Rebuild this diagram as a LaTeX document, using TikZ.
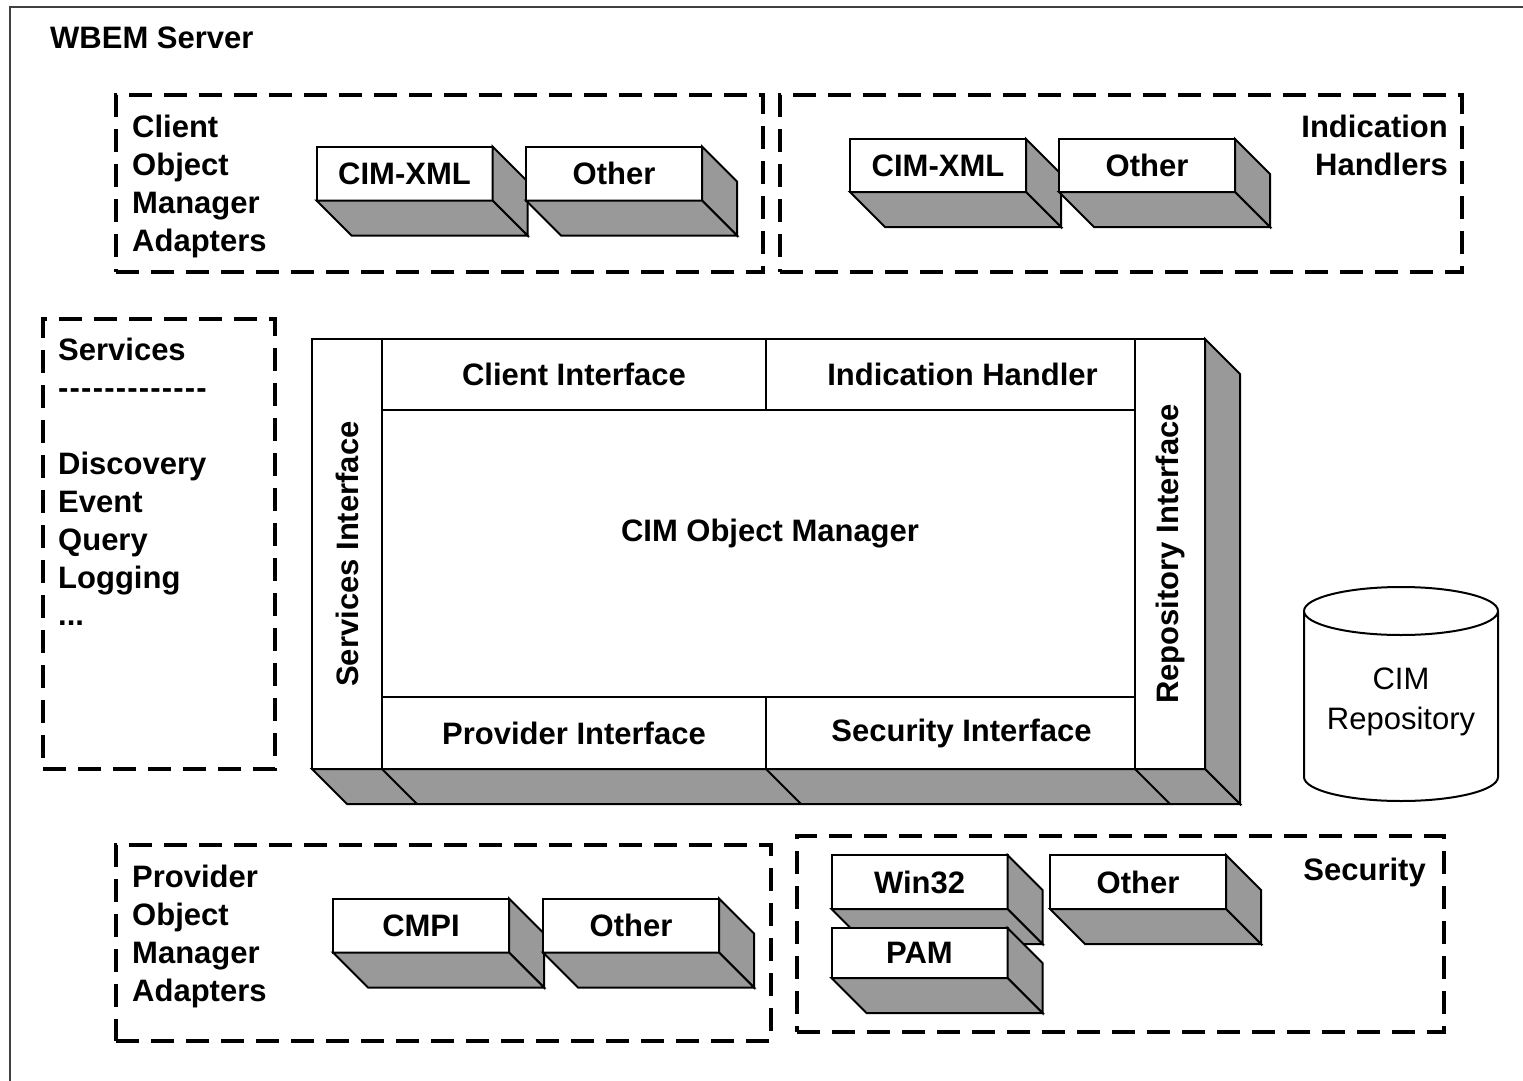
\documentclass[tikz,border=0pt]{standalone}
\usepackage{fontspec}
\setmainfont{Liberation Sans}
\usepackage{tikz}
\usetikzlibrary{positioning}

\definecolor{facegray}{RGB}{153,153,153}
\definecolor{framegray}{RGB}{64,64,64}

\begin{document}
\begin{tikzpicture}[x=1pt,y=-1pt,
        font=\fontsize{31}{38.5}\selectfont\bfseries,
        group/.style={draw, line width=4pt, dash pattern=on 23pt off 12pt, minimum height=177pt, outer sep=0pt},
        slab/.style={draw, line width=2pt, fill=white, minimum width=176pt, minimum height=54pt, inner sep=0pt, outer sep=0pt},
        panel/.style={draw, line width=2pt, fill=white, inner sep=0pt, outer sep=0pt},
        face/.style={draw, line width=2pt, fill=facegray},
        caption/.style={inner sep=0pt, align=left, font=\fontsize{31}{37.9}\selectfont\bfseries}]
        \def\slabdepth{35}
        \def\hy{-\kern1.2pt}
        \def\slabsides#1{%
            \path[face] (#1.north east) -- ++(\slabdepth,\slabdepth)
                -- ([shift={(\slabdepth,\slabdepth)}]#1.south east) -- (#1.south east) -- cycle;
            \path[face] (#1.south west) -- (#1.south east)
                -- ([shift={(\slabdepth,\slabdepth)}]#1.south east)
                -- ([shift={(\slabdepth,\slabdepth)}]#1.south west) -- cycle;}

        \useasboundingbox (0,0) rectangle (1523,1081);
        \clip (0,0) rectangle (1523,1081);
        \draw[line width=2pt, framegray] (10,7) rectangle (1560,1120);
        \node[anchor=west, inner sep=0pt] (wbem) at (50,38) {WBEM Server};

        % client adapters
        \node[group, minimum width=647pt] (coma) at (439.5,183.5) {};
        \node[caption, anchor=north west] (comalabel) at (132,115) {Client\\Object\\Manager\\Adapters};
        \node[slab] (cxml) at (404.5,173.5) {CIM-XML};
        \slabsides{cxml}
        \node[slab] (cother) at (614,173.5) {Other};
        \slabsides{cother}

        % indication handlers
        \node[group, minimum width=682pt] (ihand) at (1121,183.5) {};
        \node[caption, anchor=north east, align=right] (ihandlabel) at (1448,115) {Indication\\Handlers};
        \node[slab, minimum height=53pt] (ixml) at (938,165.5) {CIM-XML};
        \slabsides{ixml}
        \node[slab, minimum height=53pt] (iother) at (1147,165.5) {Other};
        \slabsides{iother}

        % services
        \node[group, minimum width=232pt, minimum height=450pt] (svc) at (159,544) {};
        \node[caption, anchor=north west] (svclist) at (58,338)
            {Services\\\hy\hy\hy\hy\hy\hy\hy\hy\hy\hy\hy\hy\hy\\[37.9pt]Discovery\\Event\\Query\\Logging\\...};

        % object manager
        \node[panel, minimum width=893pt, minimum height=430pt] (cimom) at (758.5,554) {};
        \slabsides{cimom}
        \node[panel, rotate=90, minimum width=430pt, minimum height=70pt] (svcif) at (347,554) {Services Interface};
        \node[panel, rotate=90, minimum width=430pt, minimum height=70pt] (repif) at (1170,554) {Repository Interface};
        \node[panel, minimum width=384pt, minimum height=71pt] (clientif) at (574,374.5) {Client Interface};
        \node[panel, minimum width=369pt, minimum height=71pt] (indif) at (950.5,374.5) {\hspace*{24pt}Indication Handler};
        \node[panel, minimum width=753pt, minimum height=287pt] (core) at (758.5,553.5) {};
        \node[panel, minimum width=384pt, minimum height=72pt] (provif) at (574,733) {Provider Interface};
        \node[panel, minimum width=369pt, minimum height=72pt] (secif) at (950.5,733) {\hspace*{22pt}Security Interface};
        \node[anchor=base] (cimomlabel) at (770,541) {CIM Object Manager};
        \draw[line width=2pt] (provif.south west) -- ++(\slabdepth,\slabdepth)
            (provif.south east) -- ++(\slabdepth,\slabdepth)
            (secif.south east) -- ++(\slabdepth,\slabdepth);

        % repository
        \draw[line width=2pt, fill=white] (1304,611) -- (1304,777)
            arc[start angle=180, end angle=0, x radius=97, y radius=24] -- (1498,611);
        \draw[line width=2pt, fill=white] (1401,611) ellipse[x radius=97, y radius=24];
        \node[font=\fontsize{31}{40}\selectfont\mdseries, align=center] (repo) at (1401,702) {CIM\\Repository};

        % provider adapters
        \node[group, minimum width=655pt, minimum height=196pt] (poma) at (443.5,943) {};
        \node[caption, anchor=north west] (pomalabel) at (132,865) {Provider\\Object\\Manager\\Adapters};
        \node[slab] (cmpi) at (421,925.5) {CMPI};
        \slabsides{cmpi}
        \node[slab] (pother) at (631,925.5) {Other};
        \slabsides{pother}

        % security
        \node[group, minimum width=647pt, minimum height=196pt] (sec) at (1120.5,934) {};
        \node[caption, anchor=north east, align=right] (seclabel) at (1426,858) {Security};
        \node[slab] (win) at (919.5,882) {Win32};
        \slabsides{win}
        \node[slab, minimum height=50pt] (pam) at (919.5,953) {PAM};
        \slabsides{pam}
        \node[slab] (sother) at (1138,882) {Other};
        \slabsides{sother}
\end{tikzpicture}
\end{document}
